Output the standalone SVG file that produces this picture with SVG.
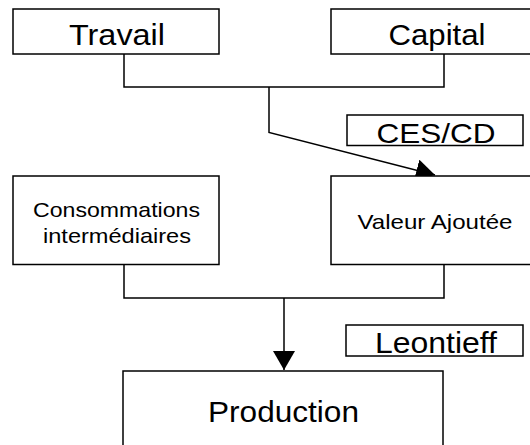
<svg xmlns="http://www.w3.org/2000/svg" width="530" height="445" viewBox="0 0 530 445">
  <style>
    .box { fill: #ffffff; stroke: #000000; stroke-width: 1.5; }
    .lbl { font-family: "Liberation Sans", Arial, sans-serif; fill: #000000; text-anchor: middle; }
    .wire { fill: none; stroke: #000000; stroke-width: 1.5; }
  </style>
  <defs>
    <marker id="arrow" markerUnits="userSpaceOnUse" markerWidth="20" markerHeight="22" refX="19" refY="11" orient="auto">
      <path d="M0,0 L19,11 L0,22 z" fill="#000000"/>
    </marker>
  </defs>
  <rect width="530" height="445" fill="#ffffff"/>

  <g id="connectors">
    <polyline class="wire" points="124,54 124,87 444,87 444,54"/>
    <polyline class="wire" points="269,87 269,132.5 435,175" marker-end="url(#arrow)"/>
    <polyline class="wire" points="124,264.5 124,298 444,298 444,264.5"/>
    <line class="wire" x1="284" y1="298" x2="284" y2="370" marker-end="url(#arrow)"/>
  </g>

  <g id="travail">
    <rect class="box" x="13" y="9" width="206" height="45"/>
    <text class="lbl" x="117" y="45" font-size="29" textLength="96" lengthAdjust="spacingAndGlyphs">Travail</text>
  </g>
  <g id="capital">
    <rect class="box" x="331" y="9" width="212" height="45"/>
    <text class="lbl" x="437" y="45" font-size="29" textLength="97" lengthAdjust="spacingAndGlyphs">Capital</text>
  </g>
  <g id="ces-cd">
    <rect class="box" x="347" y="115" width="176" height="30.5"/>
    <text class="lbl" x="436" y="142.5" font-size="28" textLength="119" lengthAdjust="spacingAndGlyphs">CES/CD</text>
  </g>
  <g id="consommations">
    <rect class="box" x="13" y="176" width="206" height="88.5"/>
    <text class="lbl" x="116.5" y="216.7" font-size="21" textLength="167" lengthAdjust="spacingAndGlyphs">Consommations</text>
    <text class="lbl" x="117" y="242.7" font-size="21" textLength="148" lengthAdjust="spacingAndGlyphs">intermédiaires</text>
  </g>
  <g id="valeur-ajoutee">
    <rect class="box" x="331" y="176" width="212" height="88.5"/>
    <text class="lbl" x="435" y="229.3" font-size="21" textLength="155" lengthAdjust="spacingAndGlyphs">Valeur Ajoutée</text>
  </g>
  <g id="leontieff">
    <rect class="box" x="346" y="325" width="177" height="31"/>
    <text class="lbl" x="436" y="353.3" font-size="29" textLength="122" lengthAdjust="spacingAndGlyphs">Leontieff</text>
  </g>
  <g id="production">
    <rect class="box" x="123" y="371" width="320" height="100"/>
    <text class="lbl" x="283.5" y="422.3" font-size="30" textLength="151" lengthAdjust="spacingAndGlyphs">Production</text>
  </g>
</svg>
